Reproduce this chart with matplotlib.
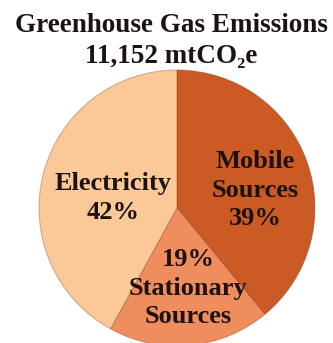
import matplotlib
matplotlib.use("Agg")
import matplotlib.pyplot as plt

# Emission shares by source (percent of total)
categories = ["Mobile\nSources", "Stationary\nSources", "Electricity"]
shares = [39, 19, 42]
colors = ["#CB5A24", "#EF8D5D", "#FBC897"]
total_label = "11,152 mtCO₂e"
title = "Greenhouse Gas Emissions"

W, H = 333, 343
fig = plt.figure(figsize=(W / 100, H / 100), dpi=100)
fig.patch.set_facecolor("white")

cx, cy, r = 177, 208, 138  # pie center and radius in pixels (from top-left)
ax = fig.add_axes([(cx - r) / W, (H - cy - r) / H, 2 * r / W, 2 * r / H])
ax.pie(shares, colors=colors, startangle=90, counterclock=False,
       radius=1.0, wedgeprops=dict(linewidth=0.7, edgecolor=(0.45, 0.2, 0.1, 0.35)))
ax.set_xlim(-1, 1)
ax.set_ylim(-1, 1)
ax.set_aspect("equal")
ax.axis("off")

font = dict(family=["Liberation Serif", "DejaVu Serif"], fontweight="bold", color="#1c1212")

fig.text(171 / W, 1 - 26 / H, title, ha="center", va="center", fontsize=19.5, **font)
fig.text(171 / W, 1 - 56 / H, total_label, ha="center", va="center", fontsize=19.5, **font)

# Slice labels: name and share
mob, sta, ele = categories
lab = dict(ha="center", va="center", fontsize=19, linespacing=1.33, **font)
fig.text(255 / W, 1 - 190 / H, f"{mob}\n{shares[0]}%", **lab)
fig.text(113 / W, 1 - 198 / H, f"{ele}\n{shares[2]}%", **lab)
fig.text(188 / W, 1 - 288 / H, f"{shares[1]}%\n{sta}", **lab)

fig.savefig("out.png", dpi=100, facecolor="white")
